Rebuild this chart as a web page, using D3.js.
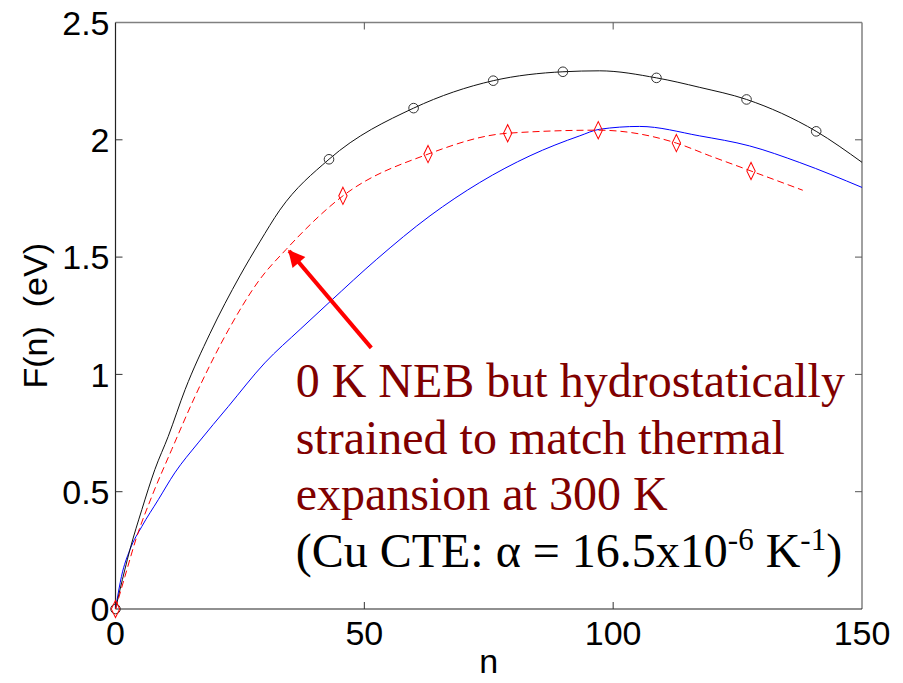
<!DOCTYPE html>
<html lang="en">
<head>
    <meta charset="UTF-8">
    <script src="https://d3js.org/d3.v7.min.js"></script>
    <style>
        body {
            margin: 0;
            background: #fff;
        }
        .tick-label {
            font-family: "Liberation Sans", Arial, sans-serif;
            font-size: 34px;
            fill: #000;
        }
        .axis-title {
            font-family: "Liberation Sans", Arial, sans-serif;
            font-size: 34px;
            fill: #000;
        }
        .note {
            font-family: "Liberation Serif", "Times New Roman", serif;
            font-size: 48px;
        }
    </style>
</head>
<body>
    <svg id="chart"></svg>
    <script>
        // black solid curve (0 K NEB)
        const blackN = [0, 0.9, 2.9, 5.3, 7.9, 10.6, 14, 19, 25, 29, 33, 42.9, 59.9, 75.9, 89.9, 97.3, 108.7, 117.3, 126.8, 140.8, 150];
        const blackF = [0, 0.082, 0.253, 0.424, 0.594, 0.736, 0.936, 1.175, 1.42, 1.565, 1.7, 1.917, 2.135, 2.252, 2.29, 2.294, 2.264, 2.224, 2.172, 2.036, 1.904];
        const blackMarkN = [0, 42.9, 59.9, 75.9, 89.9, 108.7, 126.8, 140.8];
        const blackMarkF = [0, 1.917, 2.135, 2.252, 2.29, 2.264, 2.172, 2.036];

        // red dashed curve (strained 0 K NEB)
        const redN = [0, 1.9, 4.3, 7.3, 11.3, 16, 22.7, 29, 34.3, 45.7, 62.8, 78.8, 97, 112.7, 119.4, 127.7, 138.1];
        const redF = [0, 0.139, 0.31, 0.48, 0.68, 0.907, 1.19, 1.405, 1.533, 1.761, 1.939, 2.028, 2.041, 1.986, 1.932, 1.867, 1.785];
        const redMarkN = [0, 45.7, 62.8, 78.8, 97, 112.7, 127.7];
        const redMarkF = [0, 1.761, 1.939, 2.028, 2.041, 1.986, 1.867];

        // blue solid curve
        const blueN = [0, 0.2, 1.2, 2.9, 5.3, 8.6, 11.9, 16.6, 22.7, 30, 37.1, 43.1, 52.5, 63.2, 73.2, 83.3, 93.3, 97.3, 105.3, 117.3, 127.4, 137.5, 150];
        const blueF = [0, 0.025, 0.139, 0.253, 0.352, 0.466, 0.58, 0.708, 0.864, 1.049, 1.192, 1.31, 1.491, 1.676, 1.818, 1.932, 2.017, 2.045, 2.057, 2.017, 1.974, 1.903, 1.797];

        const xTicks = [0, 50, 100, 150];
        const yTicks = [0, 0.5, 1, 1.5, 2, 2.5];

        const width = 903;
        const height = 683;
        const margin = { top: 22.5, right: 41, bottom: 74, left: 115.5 };

        const svg = d3.select("#chart")
            .attr("width", width)
            .attr("height", height);

        const x = d3.scaleLinear().domain([0, 150]).range([margin.left, width - margin.right]);
        const y = d3.scaleLinear().domain([0, 2.5]).range([height - margin.bottom, margin.top]);

        const x0 = x(0), x1 = x(150), y0 = y(0), y1 = y(2.5);

        // box
        svg.append("line").attr("x1", x0).attr("x2", x1).attr("y1", y1).attr("y2", y1)
            .attr("stroke", "#808080").attr("stroke-width", 1.5);
        svg.append("line").attr("x1", x1).attr("x2", x1).attr("y1", y1).attr("y2", y0)
            .attr("stroke", "#808080").attr("stroke-width", 1.5);
        svg.append("line").attr("x1", x0).attr("x2", x1).attr("y1", y0).attr("y2", y0)
            .attr("stroke", "#222").attr("stroke-width", 1.2);
        svg.append("line").attr("x1", x0).attr("x2", x0).attr("y1", y1).attr("y2", y0)
            .attr("stroke", "#222").attr("stroke-width", 1.2);

        // inward ticks
        const tl = 7;
        xTicks.slice(1, -1).forEach(t => {
            svg.append("line").attr("x1", x(t)).attr("x2", x(t)).attr("y1", y0).attr("y2", y0 - tl).attr("stroke", "#333");
            svg.append("line").attr("x1", x(t)).attr("x2", x(t)).attr("y1", y1).attr("y2", y1 + tl).attr("stroke", "#555");
        });
        yTicks.slice(1, -1).forEach(t => {
            svg.append("line").attr("x1", x0).attr("x2", x0 + tl).attr("y1", y(t)).attr("y2", y(t)).attr("stroke", "#333");
            svg.append("line").attr("x1", x1).attr("x2", x1 - tl).attr("y1", y(t)).attr("y2", y(t)).attr("stroke", "#555");
        });

        // tick labels
        svg.selectAll(".xlab")
            .data(xTicks)
            .enter()
            .append("text")
            .attr("class", "tick-label")
            .attr("x", d => x(d))
            .attr("y", y0 + 36)
            .attr("text-anchor", "middle")
            .text(d => d);

        svg.selectAll(".ylab")
            .data(yTicks)
            .enter()
            .append("text")
            .attr("class", "tick-label")
            .attr("x", x0 - 6)
            .attr("y", d => y(d))
            .attr("dy", "0.36em")
            .attr("text-anchor", "end")
            .text(d => d);

        svg.append("text")
            .attr("class", "axis-title")
            .attr("x", (x0 + x1) / 2)
            .attr("y", 673)
            .attr("text-anchor", "middle")
            .text("n");

        svg.append("text")
            .attr("class", "axis-title")
            .attr("transform", `translate(47,${(y0 + y1) / 2}) rotate(-90)`)
            .attr("text-anchor", "middle")
            .attr("xml:space", "preserve")
            .style("white-space", "pre")
            .text("F(n)  (eV)");

        // curves
        const line = d3.line()
            .x(d => x(d[0]))
            .y(d => y(d[1]))
            .curve(d3.curveMonotoneX);

        const zip = (a, b) => a.map((v, i) => [v, b[i]]);

        svg.append("path")
            .datum(zip(blueN, blueF))
            .attr("d", line)
            .attr("fill", "none")
            .attr("stroke", "#0000ff")
            .attr("stroke-width", 1);

        svg.append("path")
            .datum(zip(blackN, blackF))
            .attr("d", line)
            .attr("fill", "none")
            .attr("stroke", "#111")
            .attr("stroke-width", 1);

        svg.append("path")
            .datum(zip(redN, redF))
            .attr("d", line)
            .attr("fill", "none")
            .attr("stroke", "#ff0000")
            .attr("stroke-width", 1)
            .attr("stroke-dasharray", "7,4");

        // markers
        svg.selectAll(".circ")
            .data(zip(blackMarkN, blackMarkF))
            .enter()
            .append("circle")
            .attr("cx", d => x(d[0]))
            .attr("cy", d => y(d[1]))
            .attr("r", 4.8)
            .attr("fill", "none")
            .attr("stroke", "#333")
            .attr("stroke-width", 1);

        svg.selectAll(".diam")
            .data(zip(redMarkN, redMarkF))
            .enter()
            .append("path")
            .attr("d", d3.symbol().type(d3.symbolDiamond).size(55))
            .attr("transform", d => `translate(${x(d[0])},${y(d[1])}) scale(1.05,1.25)`)
            .attr("fill", "none")
            .attr("stroke", "#ff0000")
            .attr("stroke-width", 0.9);

        // arrow annotation
        const arrowTail = [51.4, 1.113];
        const arrowTip = [34.9, 1.526];
        svg.append("defs").append("marker")
            .attr("id", "head")
            .attr("viewBox", "0 0 10 10")
            .attr("refX", 9)
            .attr("refY", 5)
            .attr("markerWidth", 5)
            .attr("markerHeight", 4.2)
            .attr("orient", "auto")
            .attr("markerUnits", "strokeWidth")
            .append("path")
            .attr("d", "M0,0 L10,5 L0,10 Z")
            .attr("fill", "#ff0000");

        svg.append("line")
            .attr("x1", x(arrowTail[0]))
            .attr("y1", y(arrowTail[1]))
            .attr("x2", x(arrowTip[0]))
            .attr("y2", y(arrowTip[1]))
            .attr("stroke", "#ff0000")
            .attr("stroke-width", 4)
            .attr("marker-end", "url(#head)");

        // text annotation
        const noteX = x(36.2);
        const noteLines = ["0 K NEB but hydrostatically", "strained to match thermal", "expansion at 300 K"];
        const noteY = [397, 453.5, 510];
        noteLines.forEach((t, i) => {
            svg.append("text")
                .attr("class", "note")
                .attr("x", noteX)
                .attr("y", noteY[i])
                .attr("fill", "#800000")
                .text(t);
        });

        const cte = svg.append("text")
            .attr("class", "note")
            .attr("x", noteX)
            .attr("y", 567)
            .attr("fill", "#000");
        cte.append("tspan").text("(Cu CTE: \u03b1 = 16.5x10");
        cte.append("tspan").attr("dy", -17).style("font-size", "31px").text("-6");
        cte.append("tspan").attr("dy", 17).text(" K");
        cte.append("tspan").attr("dy", -17).style("font-size", "31px").text("-1");
        cte.append("tspan").attr("dy", 17).text(")");
    </script>
</body>
</html>
